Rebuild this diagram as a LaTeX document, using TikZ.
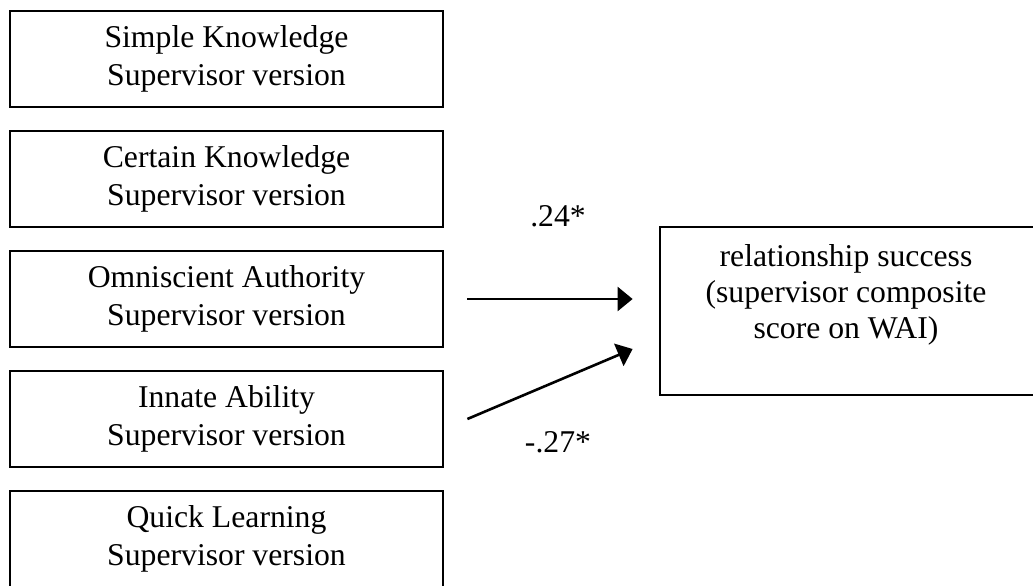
\documentclass[tikz,border=0pt]{standalone}
\usepackage{fontspec}
\setmainfont{Liberation Serif}
\usetikzlibrary{arrows.meta}

\tikzset{
  lbl/.style={font=\fontsize{31.7}{37}\selectfont, inner sep=0pt},
  scalebox/.style={draw, line width=2.8pt, rectangle, minimum width=433pt,
    minimum height=96pt, inner sep=0pt, align=center,
    font=\fontsize{31.7}{38}\selectfont},
  outbox/.style={draw, line width=2.8pt, rectangle, minimum width=376pt,
    minimum height=168pt, inner sep=0pt},
  path/.style={line width=2.6pt, -{Triangle[length=15pt,width=24pt]}}
}

\begin{document}
\begin{tikzpicture}[x=1pt,y=-1pt]
  \useasboundingbox (0,0) rectangle (1033,586);
  \clip (0,0) rectangle (1033,586);

  % predictor scales (supervisor versions)
  \node[scalebox] (sk) at (226.5,59)  {Simple Knowledge\\Supervisor version};
  \node[scalebox] (ck) at (226.5,179) {Certain Knowledge\\Supervisor version};
  \node[scalebox] (oa) at (226.5,299) {Omniscient Authority\\Supervisor version};
  \node[scalebox] (ia) at (226.5,419) {Innate Ability\\Supervisor version};
  \node[scalebox] (ql) at (226.5,539) {Quick Learning\\Supervisor version};

  % outcome
  \node[outbox] (out) at (848,311) {};
  \node[lbl, align=center, anchor=north,
        font=\fontsize{31.7}{36}\selectfont] (outtxt) at (846,244.5)
        {relationship success\\(supervisor composite\\score on WAI)};

  % significant paths
  \coordinate (e1) at ([xshift=-26pt,yshift=12pt]out.west);
  \coordinate (e2) at ([xshift=-26pt,yshift=-38pt]out.west);
  \draw[path] ([xshift=23pt]oa.east) -- (e1);
  \draw[path] ([xshift=23pt]ia.east) -- (e2);

  \node[lbl, anchor=base] (w1) at (558,226) {.24*};
  \node[lbl, anchor=base] (w2) at (558,452) {-.27*};
\end{tikzpicture}
\end{document}
